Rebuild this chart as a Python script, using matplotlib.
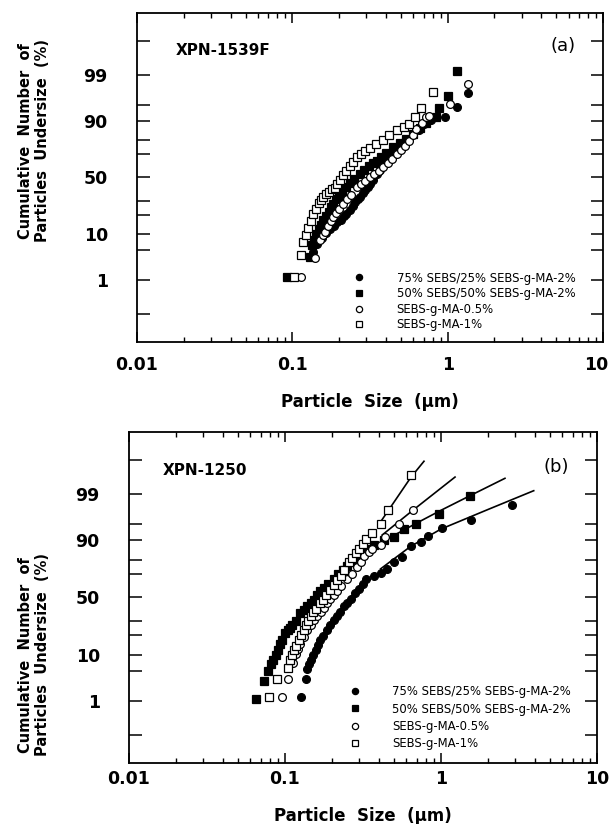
import numpy as np
import matplotlib
matplotlib.use("Agg")
import matplotlib.pyplot as plt
from matplotlib.transforms import ScaledTranslation
from statistics import NormalDist

# ---------------- data ----------------
labels = ["75% SEBS/25% SEBS-g-MA-2%", "50% SEBS/50% SEBS-g-MA-2%",
          "SEBS-g-MA-0.5%", "SEBS-g-MA-1%"]

# Panel (a) XPN-1539F
a75_x = [0.135, 0.145, 0.155, 0.165, 0.175, 0.185, 0.195, 0.205, 0.215, 0.223, 0.235, 0.245, 0.255,
         0.265, 0.272, 0.285, 0.295, 0.305, 0.317, 0.33, 0.35, 0.365, 0.38, 0.395, 0.405, 0.42, 0.44,
         0.46, 0.49, 0.52, 0.56, 0.6, 0.65, 0.70, 0.78, 0.96, 1.15, 1.35]
a75_p = [4.5, 6.5, 8.5, 10.5, 12, 13.5, 15.5, 17, 19, 20.7, 23, 26, 29,
         31, 33, 36, 39, 41.5, 44, 48, 53, 57, 60, 63, 65, 68, 72,
         75, 77, 78.6, 81, 83.7, 86, 88.6, 90.5, 91.5, 94.5, 97.2]

a50_x = [0.093, 0.13, 0.133, 0.138, 0.143, 0.148, 0.153, 0.158, 0.165, 0.172, 0.178, 0.184, 0.192,
         0.2, 0.21, 0.223, 0.235, 0.25, 0.272, 0.29, 0.31, 0.33, 0.35, 0.375, 0.4, 0.445, 0.49,
         0.54, 0.6, 0.66, 0.73, 0.84, 0.88, 1.01, 1.15]
a50_p = [1.2, 3.7, 6.3, 8, 10.2, 12, 14, 16.7, 19, 22, 25, 27.8, 31,
         34, 37, 41.3, 45, 49, 53, 57, 60, 62.5, 64.8, 68, 71, 75.2, 78,
         80.8, 84, 86.8, 89.3, 91.5, 94.3, 96.7, 99.2]

a05_x = [0.113, 0.14, 0.151, 0.157, 0.162, 0.17, 0.177, 0.184, 0.192, 0.2, 0.212, 0.225, 0.24,
         0.26, 0.275, 0.295, 0.317, 0.335, 0.36, 0.385, 0.41, 0.44, 0.47, 0.5, 0.53, 0.56, 0.6,
         0.63, 0.68, 0.73, 0.76, 1.04, 1.35]
a05_p = [1.2, 3.4, 7.8, 9.5, 11, 13.5, 16, 18.6, 21, 23.5, 27.8, 31, 35,
         41.3, 44, 47, 50, 53, 56, 59, 62.5, 66, 70, 73, 76.5, 79.7, 83,
         86.3, 89, 91.3, 91.8, 95.2, 98.3]

a1_x = [0.103, 0.113, 0.117, 0.122, 0.127, 0.132, 0.136, 0.142, 0.148, 0.153, 0.158, 0.165, 0.172,
        0.18, 0.188, 0.195, 0.203, 0.212, 0.223, 0.235, 0.247, 0.26, 0.275, 0.295, 0.317, 0.345,
        0.385, 0.42, 0.47, 0.52, 0.56, 0.62, 0.67, 0.81]
a1_p = [1.2, 4, 7.1, 9.5, 12.5, 16, 20.7, 24, 28, 30.5, 33, 35.5, 37.5,
        39.5, 41, 44, 48, 52, 56, 60, 64, 67.6, 70, 72.5, 75, 77.5,
        80, 83, 85.8, 87.5, 88.6, 91.5, 94.3, 97.3]

# Panel (b) XPN-1250
b75_x = [0.126, 0.136, 0.139, 0.143, 0.147, 0.152, 0.157, 0.162, 0.168, 0.175, 0.186, 0.195, 0.205,
         0.215, 0.225, 0.238, 0.25, 0.265, 0.283, 0.3, 0.315, 0.33, 0.37, 0.41, 0.45, 0.5, 0.56,
         0.64, 0.74, 0.82, 1.02, 1.56, 2.85]
b75_p = [1.25, 3.3, 5.5, 6.8, 8, 10, 12, 14.5, 17, 19.5, 23, 27, 31,
         34, 37, 42, 45, 49, 54, 58, 62, 66, 68.5, 71, 74, 78.5, 82,
         87.5, 89.3, 91.8, 94, 96, 98.1]

b50_x = [0.0655, 0.073, 0.078, 0.081, 0.084, 0.087, 0.09, 0.093, 0.096, 0.1, 0.104, 0.107, 0.111,
         0.117, 0.125, 0.132, 0.139, 0.146, 0.153, 0.16, 0.168, 0.178, 0.19, 0.205, 0.22, 0.235,
         0.25, 0.27, 0.29, 0.31, 0.33, 0.37, 0.43, 0.5, 0.58, 0.69, 0.97, 1.54]
b50_p = [1.1, 3, 5, 6.7, 8, 9.7, 12, 15, 17, 21, 23, 25, 27,
         30, 36, 39, 42, 45, 48, 52, 55.7, 58.5, 62, 66, 70, 73,
         76, 79, 81.6, 84, 86, 88, 90, 91.3, 93.7, 95.1, 97, 98.9]

b05_x = [0.095, 0.104, 0.113, 0.117, 0.121, 0.125, 0.132, 0.139, 0.146, 0.153, 0.161, 0.17, 0.178,
         0.186, 0.195, 0.205, 0.216, 0.23, 0.25, 0.27, 0.29, 0.305, 0.32, 0.345, 0.36, 0.41,
         0.44, 0.54, 0.66]
b05_p = [1.3, 3.4, 7, 10.4, 12.5, 15, 19, 23, 27, 30.5, 33.6, 37, 41,
         45, 49, 52, 55.7, 60, 66, 70, 75, 79, 82.6, 84.5, 86, 88,
         91.3, 95.1, 97.5]

b1_x = [0.0785, 0.089, 0.105, 0.108, 0.111, 0.114, 0.118, 0.123, 0.127, 0.132, 0.137, 0.141, 0.146,
        0.152, 0.159, 0.168, 0.175, 0.183, 0.195, 0.205, 0.215, 0.227, 0.24, 0.256, 0.27, 0.285,
        0.297, 0.315, 0.33, 0.36, 0.41, 0.46, 0.64]
b1_p = [1.3, 3.4, 5.7, 8, 10, 11.9, 14, 17, 20, 23, 27, 30, 33.6,
        37, 40, 45, 48, 52, 57, 61, 65, 68.6, 73, 78.5, 81.5, 84,
        86, 88.5, 90.6, 92.5, 95.1, 97.5, 99.7]

# fitted curves drawn in panel (b)
fit75_x = [0.41, 0.64, 1.0, 2.0, 3.93]
fit75_p = [74, 87.5, 93.8, 97.6, 99.18]
fit50_x = [0.45, 0.70, 1.0, 1.54, 2.57]
fit50_p = [90.5, 95.3, 97.5, 98.9, 99.63]
fit05_x = [0.42, 0.66, 1.23]
fit05_p = [92, 97.5, 99.66]
fit1_x = [0.40, 0.64, 0.778]
fit1_p = [95, 99.65, 99.89]

x_major = [0.01, 0.1, 1, 10]
x_major_labels = ["0.01", "0.1", "1", "10"]
y_major = [1, 10, 50, 90, 99]
y_major_labels = ["1", "10", "50", "90", "99"]
y_minor = [0.1, 5, 20, 30, 70, 80, 95, 99.9]

# ---------------- probability scale ----------------
_nd = NormalDist()
_ppf = np.vectorize(_nd.inv_cdf, otypes=[float])
_cdf = np.vectorize(_nd.cdf, otypes=[float])


def fwd(p):
    p = np.clip(np.asarray(p, dtype=float) / 100.0, 1e-12, 1 - 1e-12)
    return _ppf(p)


def inv(z):
    return _cdf(np.asarray(z, dtype=float)) * 100.0


W, H = 613, 824
fig = plt.figure(figsize=(W / 100, H / 100), dpi=100)
fig.patch.set_facecolor("white")

styles = [dict(marker="o", mfc="black", mec="black", ms=5.6),
          dict(marker="s", mfc="black", mec="black", ms=5.3),
          dict(marker="o", mfc="white", mec="black", ms=5.6),
          dict(marker="s", mfc="white", mec="black", ms=5.3)]

bold = dict(family="DejaVu Sans", weight="bold")


def setup(ax, xpad, shift_last):
    ax.set_xscale("log")
    ax.set_yscale("function", functions=(fwd, inv))
    ax.set_xlim(0.01, 10)
    ax.set_ylim(0.01, 99.99)
    ax.set_xticks(x_major)
    ax.set_xticklabels(x_major_labels)
    ax.xaxis.set_minor_locator(matplotlib.ticker.LogLocator(base=10, subs=np.arange(2, 10)))
    ax.xaxis.set_minor_formatter(matplotlib.ticker.NullFormatter())
    ax.set_yticks(y_major)
    ax.set_yticklabels(y_major_labels)
    ax.set_yticks(y_minor, minor=True)
    ax.yaxis.set_minor_formatter(matplotlib.ticker.NullFormatter())
    ax.tick_params(axis="x", which="major", direction="in", top=True, bottom=True,
                   length=7, width=1.1, pad=xpad)
    ax.tick_params(axis="x", which="minor", direction="in", top=True, bottom=True,
                   length=3.5, width=1.0)
    ax.tick_params(axis="y", which="both", direction="in", left=True, right=True,
                   length=9, width=1.1, pad=21)
    for lab in ax.get_xticklabels() + ax.get_yticklabels():
        lab.set_fontfamily("DejaVu Sans")
        lab.set_fontweight("bold")
        lab.set_fontsize(12.5)
    if shift_last:
        # keep the "10" label inside the figure, as in the reference
        last = ax.get_xticklabels()[-1]
        last.set_transform(last.get_transform() + ScaledTranslation(-5 / 72, 0, fig.dpi_scale_trans))
    for s in ax.spines.values():
        s.set_linewidth(1.3)
    ax.set_xlabel("Particle  Size  (\u03bcm)", fontsize=12, labelpad=14, **bold)


def draw(ax, series, fits=None):
    handles = []
    for (xs, ps), st in zip(series, styles):
        h, = ax.plot(xs, ps, linestyle="none", mew=0.9, **st, zorder=3)
        handles.append(h)
    if fits:
        for xs, ps in fits:
            ax.plot(xs, ps, color="black", lw=1.2, zorder=2)
    return handles


# ---- panel (a)
ax1 = fig.add_axes([137 / W, 1 - 342 / H, 466 / W, 329 / H])
setup(ax1, xpad=10, shift_last=True)
h1 = draw(ax1, [(a75_x, a75_p), (a50_x, a50_p), (a05_x, a05_p), (a1_x, a1_p)])
ax1.text(0.082, 0.886, "XPN-1539F", transform=ax1.transAxes, fontsize=11,
         ha="left", va="center", **bold)
ax1.text(0.915, 0.9, "(a)", transform=ax1.transAxes, fontsize=13,
         ha="center", va="center", family="DejaVu Sans")
leg1 = ax1.legend(h1, labels, loc="upper left", bbox_to_anchor=(0.452, 0.232),
                  frameon=False, fontsize=8.4, handlelength=1.0, handletextpad=2.7,
                  labelspacing=0.22, borderpad=0, markerscale=0.8)

# ---- panel (b)
ax2 = fig.add_axes([129 / W, 1 - 763 / H, 468 / W, 331 / H])
setup(ax2, xpad=5, shift_last=False)
h2 = draw(ax2, [(b75_x, b75_p), (b50_x, b50_p), (b05_x, b05_p), (b1_x, b1_p)],
          fits=[(fit75_x, fit75_p), (fit50_x, fit50_p), (fit05_x, fit05_p), (fit1_x, fit1_p)])
ax2.text(0.073, 0.883, "XPN-1250", transform=ax2.transAxes, fontsize=11,
         ha="left", va="center", **bold)
ax2.text(0.912, 0.893, "(b)", transform=ax2.transAxes, fontsize=13,
         ha="center", va="center", family="DejaVu Sans")
leg2 = ax2.legend(h2, labels, loc="upper left", bbox_to_anchor=(0.458, 0.252),
                  frameon=False, fontsize=8.4, handlelength=1.0, handletextpad=2.7,
                  labelspacing=0.35, borderpad=0, markerscale=0.8)

ylab = "Cumulative  Number  of\nParticles  Undersize  (%)"
fig.text(34 / W, 1 - 141 / H, ylab, rotation=90, ha="center", va="center",
         fontsize=10.5, linespacing=1.15, multialignment="center", **bold)
fig.text(34 / W, 1 - 655 / H, ylab, rotation=90, ha="center", va="center",
         fontsize=10.5, linespacing=1.15, multialignment="center", **bold)

fig.savefig("out.png", dpi=100, facecolor="white")
